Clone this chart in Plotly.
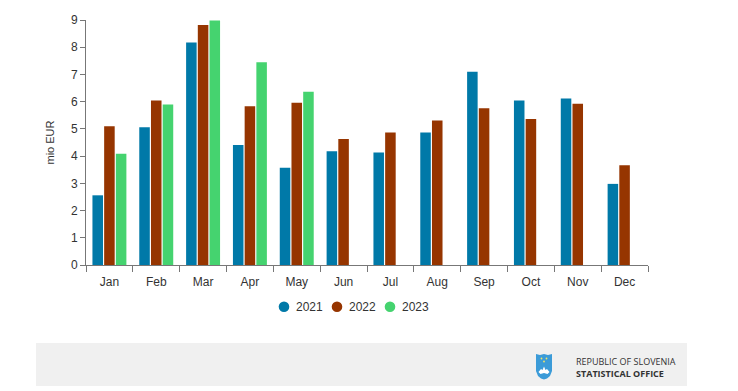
import plotly.graph_objects as go

months = ["Jan", "Feb", "Mar", "Apr", "May", "Jun", "Jul", "Aug", "Sep", "Oct", "Nov", "Dec"]
y2021 = [2.56, 5.06, 8.17, 4.41, 3.57, 4.18, 4.13, 4.87, 7.10, 6.04, 6.12, 2.98]
y2022 = [5.10, 6.04, 8.82, 5.83, 5.96, 4.63, 4.87, 5.31, 5.76, 5.36, 5.92, 3.66]
y2023 = [4.09, 5.90, 8.98, 7.45, 6.36, None, None, None, None, None, None, None]
series_names = ["2021", "2022", "2023"]
colors = ["#0079a8", "#963500", "#45d36f"]
y_ticks = [0, 1, 2, 3, 4, 5, 6, 7, 8, 9]

W, H = 738, 391
ML, MR, MT, MB = 86, 90, 20, 126
PW, PH = W - ML - MR, H - MT - MB


def px(x):
    return (x - ML) / PW


def py(y):
    return (H - MB - y) / PH


fig = go.Figure()
for name, vals, col in zip(series_names, [y2021, y2022, y2023], colors):
    fig.add_trace(go.Bar(x=months, y=vals, name=name, marker=dict(color=col, line=dict(width=0)),
                         showlegend=False))

shapes = []
annotations = []

# legend (circle + label), laid out horizontally
LEG_X0, LEG_STEP, LEG_Y, R = 284, 53, 306.7, 5.3
for i, (name, col) in enumerate(zip(series_names, colors)):
    cx = LEG_X0 + i * LEG_STEP
    shapes.append(dict(type="circle", xref="paper", yref="paper", x0=px(cx - R), x1=px(cx + R),
                       y0=py(LEG_Y + R), y1=py(LEG_Y - R), fillcolor=col, line=dict(width=0)))
    annotations.append(dict(xref="paper", yref="paper", x=px(cx + 10), y=py(LEG_Y), xanchor="left",
                            yanchor="middle", text=name, showarrow=False,
                            font=dict(size=12, color="#333333")))

# footer band
shapes.append(dict(type="rect", xref="paper", yref="paper", x0=px(36), x1=px(687), y0=py(386), y1=py(343),
                   fillcolor="#f0f0f0", line=dict(width=0), layer="below"))


def P(pts):
    s = ""
    for i, (a, b) in enumerate(pts):
        s += ("M" if i == 0 else "L") + f"{px(a):.5f},{py(b):.5f} "
    return s + "Z"


shield = [(536, 354), (540, 355), (544, 354), (548, 355), (552, 354), (552, 371), (550, 376), (547, 378.5),
          (544, 379.5), (541, 378.5), (538, 376), (536, 371)]
shapes.append(dict(type="path", xref="paper", yref="paper", path=P(shield), fillcolor="#3b9bd8",
                   line=dict(width=0)))
mountain = [(538.5, 372), (541, 369), (542.5, 370), (544, 366.5), (545.5, 370), (547, 369), (549.5, 372),
            (547.5, 374), (544, 373), (540.5, 374)]
shapes.append(dict(type="path", xref="paper", yref="paper", path=P(mountain), fillcolor="#ffffff",
                   line=dict(width=0)))
for (cx, cy) in [(541.5, 358.5), (546.5, 358.5), (544, 361.5)]:
    shapes.append(dict(type="circle", xref="paper", yref="paper", x0=px(cx - 0.9), x1=px(cx + 0.9),
                       y0=py(cy + 0.9), y1=py(cy - 0.9), fillcolor="#f5e663", line=dict(width=0)))

annotations.append(dict(xref="paper", yref="paper", x=px(574), y=py(367), xanchor="left", yanchor="middle",
                        text="REPUBLIC OF SLOVENIA<br><b>STATISTICAL OFFICE</b>", showarrow=False, align="left",
                        font=dict(family="Open Sans, Liberation Sans, Arial", size=9, color="#333333")))

fig.update_layout(
    width=W, height=H,
    margin=dict(l=ML, r=MR, t=MT, b=MB, pad=0),
    paper_bgcolor="white", plot_bgcolor="white",
    barmode="group", bargap=0.25, bargroupgap=0.1,
    font=dict(family="Liberation Sans, Arial", size=12, color="#333333"),
    showlegend=False,
    shapes=shapes, annotations=annotations,
    xaxis=dict(type="category", categoryorder="array", categoryarray=months,
               showline=True, linecolor="#777777", linewidth=1,
               ticks="outside", ticklen=6, tickcolor="#777777", tickson="boundaries",
               ticklabelstandoff=6,
               showgrid=False, zeroline=False, tickfont=dict(size=12, color="#333333")),
    yaxis=dict(range=[0, 9], tickvals=y_ticks, showline=True, linecolor="#777777", linewidth=1,
               ticks="outside", ticklen=5, tickcolor="#777777", showgrid=False, zeroline=False,
               tickfont=dict(size=12, color="#333333"),
               title=dict(text="mio EUR", standoff=14, font=dict(size=11, color="#333333"))),
)

fig.write_html("out.html", config={"displayModeBar": False},
               post_script="document.body.style.margin='0';")
